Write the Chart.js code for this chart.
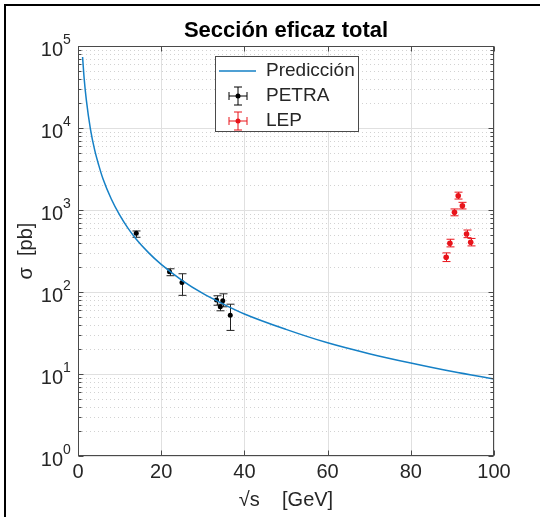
<!DOCTYPE html>
<html>
<head>
<meta charset="utf-8">
<script src="https://cdn.jsdelivr.net/npm/chart.js@4.4.1/dist/chart.umd.min.js"></script>
<style>
  html, body { margin: 0; padding: 0; background: #fff; }
  #wrap { width: 540px; height: 517px; }
</style>
</head>
<body>
<div id="wrap"><canvas id="chart" width="540" height="517"></canvas></div>
<script>
// prediction curve, sigma in pb against sqrt(s) in GeV
const predX = [1.1, 1.5, 2, 3, 4, 5, 6, 8, 10, 12, 14, 17, 20, 25, 30, 35, 40, 50, 60, 70, 80, 90, 100];
const predY = [73400, 39000, 22000, 9600, 5400, 3500, 2400, 1360, 870, 600, 440, 300, 217, 139, 96, 71, 54, 35, 24, 17.7, 13.6, 10.7, 8.7];

// PETRA measurements
const petraX = [14, 22, 25, 33.3, 34.8, 34.2, 36.6];
const petraY = [520, 177, 131, 80, 78, 66, 52];
const petraLo = [465, 158, 91, 69, 66, 59, 34];
const petraHi = [555, 192, 167, 90, 95, 71, 71];

// LEP measurements
const lepX = [88.5, 89.4, 90.5, 91.4, 92.4, 93.4, 94.4];
const lepY = [265, 393, 938, 1495, 1129, 510, 404];
const lepLo = [235, 355, 850, 1360, 1030, 460, 365];
const lepHi = [300, 440, 1030, 1650, 1240, 570, 450];

const xTicks = [0, 20, 40, 60, 80, 100];
const yExps = [0, 1, 2, 3, 4, 5];

const FONT = '"Liberation Sans", Arial, sans-serif';
const AXIS = '#4a4a4a';
const TXT = '#262626';
const BLUE = '#1580c6';
const RED = '#E8141B';

function pts(xs, ys) {
  return xs.map((x, i) => ({ x: x, y: ys[i] }));
}

function errorBars(ctx, xs, lo, hi, color, sx, sy) {
  ctx.save();
  ctx.strokeStyle = color;
  ctx.lineWidth = 1;
  for (let i = 0; i < xs.length; i++) {
    const px = Math.round(sx.getPixelForValue(xs[i])) + 0.5;
    const y1 = sy.getPixelForValue(lo[i]);
    const y2 = sy.getPixelForValue(hi[i]);
    ctx.beginPath();
    ctx.moveTo(px, y1); ctx.lineTo(px, y2);
    ctx.moveTo(px - 4, y1); ctx.lineTo(px + 4, y1);
    ctx.moveTo(px - 4, y2); ctx.lineTo(px + 4, y2);
    ctx.stroke();
  }
  ctx.restore();
}

function legendErrSymbol(ctx, cx, cy, color) {
  ctx.save();
  ctx.strokeStyle = color;
  ctx.fillStyle = color;
  ctx.lineWidth = 1;
  ctx.beginPath();
  ctx.moveTo(cx - 9, cy); ctx.lineTo(cx + 9, cy);
  ctx.moveTo(cx - 9, cy - 4); ctx.lineTo(cx - 9, cy + 4);
  ctx.moveTo(cx + 9, cy - 4); ctx.lineTo(cx + 9, cy + 4);
  ctx.moveTo(cx, cy - 9); ctx.lineTo(cx, cy + 9);
  ctx.moveTo(cx - 4, cy - 9); ctx.lineTo(cx + 4, cy - 9);
  ctx.moveTo(cx - 4, cy + 9); ctx.lineTo(cx + 4, cy + 9);
  ctx.stroke();
  ctx.beginPath();
  ctx.arc(cx, cy, 2.5, 0, Math.PI * 2);
  ctx.fill();
  ctx.restore();
}

const decor = {
  id: 'decor',
  beforeDraw(chart) {
    const ctx = chart.ctx;
    ctx.save();
    ctx.fillStyle = '#fff';
    ctx.fillRect(0, 0, chart.width, chart.height);
    // figure frame
    ctx.fillStyle = '#000';
    ctx.fillRect(4, 4, chart.width - 4, 2);
    ctx.fillRect(4, 4, 2, chart.height - 4);
    ctx.restore();
  },
  beforeDatasetsDraw(chart) {
    const ctx = chart.ctx;
    const a = chart.chartArea;
    const sx = chart.scales.x, sy = chart.scales.y;
    ctx.save();
    ctx.lineWidth = 1;
    // minor y grid, dotted
    ctx.strokeStyle = '#d2d2d2';
    ctx.setLineDash([1, 3]);
    for (let e = 0; e < 5; e++) {
      for (let m = 2; m <= 9; m++) {
        const py = Math.round(sy.getPixelForValue(m * Math.pow(10, e))) + 0.5;
        ctx.beginPath(); ctx.moveTo(a.left, py); ctx.lineTo(a.right, py); ctx.stroke();
      }
    }
    ctx.setLineDash([]);
    // major grid
    ctx.strokeStyle = '#e0e0e0';
    yExps.forEach(e => {
      const py = Math.round(sy.getPixelForValue(Math.pow(10, e))) + 0.5;
      ctx.beginPath(); ctx.moveTo(a.left, py); ctx.lineTo(a.right, py); ctx.stroke();
    });
    xTicks.forEach(v => {
      const px = Math.round(sx.getPixelForValue(v)) + 0.5;
      ctx.beginPath(); ctx.moveTo(px, a.top); ctx.lineTo(px, a.bottom); ctx.stroke();
    });
    ctx.restore();
    errorBars(ctx, petraX, petraLo, petraHi, '#222', sx, sy);
    errorBars(ctx, lepX, lepLo, lepHi, RED, sx, sy);
  },
  afterDraw(chart) {
    const ctx = chart.ctx;
    const a = chart.chartArea;
    const sx = chart.scales.x, sy = chart.scales.y;
    ctx.save();
    // axes box and inward ticks
    ctx.strokeStyle = AXIS;
    ctx.lineWidth = 1;
    const L = Math.round(a.left) + 0.5, R = Math.round(a.right) - 0.5;
    const T = Math.round(a.top) + 0.5, B = Math.round(a.bottom) - 0.5;
    ctx.strokeRect(L, T, R - L, B - T);
    ctx.beginPath();
    xTicks.forEach(v => {
      const px = Math.round(sx.getPixelForValue(v)) + 0.5;
      ctx.moveTo(px, B); ctx.lineTo(px, B - 5);
      ctx.moveTo(px, T); ctx.lineTo(px, T + 5);
    });
    for (let e = 0; e < 5; e++) {
      for (let m = 1; m <= 9; m++) {
        const py = Math.round(sy.getPixelForValue(m * Math.pow(10, e))) + 0.5;
        const len = m === 1 ? 5 : 3;
        ctx.moveTo(L, py); ctx.lineTo(L + len, py);
        ctx.moveTo(R, py); ctx.lineTo(R - len, py);
      }
    }
    ctx.stroke();

    // tick labels
    ctx.fillStyle = TXT;
    ctx.font = '20px ' + FONT;
    ctx.textAlign = 'center';
    ctx.textBaseline = 'top';
    xTicks.forEach(v => {
      ctx.fillText(String(v), sx.getPixelForValue(v), a.bottom + 6);
    });
    yExps.forEach(e => {
      const py = sy.getPixelForValue(Math.pow(10, e));
      ctx.font = '20px ' + FONT;
      ctx.textAlign = 'right';
      ctx.textBaseline = 'alphabetic';
      ctx.fillText('10', a.left - 15, py + 10);
      ctx.font = '14px ' + FONT;
      ctx.textAlign = 'left';
      ctx.fillText(String(e), a.left - 15, py - 2);
    });

    // axis titles
    ctx.font = '20px ' + FONT;
    ctx.textAlign = 'center';
    ctx.textBaseline = 'middle';
    ctx.fillText('\u221As    [GeV]', (a.left + a.right) / 2, 500);
    ctx.save();
    ctx.translate(26, (a.top + a.bottom) / 2);
    ctx.rotate(-Math.PI / 2);
    ctx.fillText('\u03C3  [pb]', 0, 0);
    ctx.restore();

    // title
    ctx.fillStyle = '#000';
    ctx.font = 'bold 22px ' + FONT;
    ctx.fillText('Secci\u00F3n eficaz total', (a.left + a.right) / 2, 31);

    // legend
    const lx = 215.5, ly = 56.5, lw = 143, lh = 75;
    ctx.fillStyle = '#fff';
    ctx.fillRect(lx, ly, lw, lh);
    ctx.strokeStyle = AXIS;
    ctx.strokeRect(lx, ly, lw, lh);
    ctx.strokeStyle = BLUE;
    ctx.lineWidth = 1.5;
    ctx.beginPath(); ctx.moveTo(219, 71); ctx.lineTo(256, 71); ctx.stroke();
    legendErrSymbol(ctx, 238, 96, '#000');
    legendErrSymbol(ctx, 238, 121, RED);
    ctx.fillStyle = TXT;
    ctx.font = '19px ' + FONT;
    ctx.textAlign = 'left';
    ctx.fillText('Predicci\u00F3n', 266, 71);
    ctx.fillText('PETRA', 266, 96);
    ctx.fillText('LEP', 266, 121);
    ctx.restore();
  }
};

new Chart(document.getElementById('chart').getContext('2d'), {
  type: 'scatter',
  data: {
    datasets: [
      {
        label: 'Predicción',
        data: pts(predX, predY),
        showLine: true,
        borderColor: BLUE,
        borderWidth: 1.5,
        pointRadius: 0,
        cubicInterpolationMode: 'monotone',
        fill: false
      },
      {
        label: 'PETRA',
        data: pts(petraX, petraY),
        pointRadius: 2.5,
        pointBackgroundColor: '#000',
        pointBorderColor: '#000',
        pointBorderWidth: 0
      },
      {
        label: 'LEP',
        data: pts(lepX, lepY),
        pointRadius: 2.8,
        pointBackgroundColor: RED,
        pointBorderColor: RED,
        pointBorderWidth: 0
      }
    ]
  },
  options: {
    responsive: false,
    animation: false,
    events: [],
    layout: { padding: { left: 78, right: 46, top: 46, bottom: 61 } },
    scales: {
      x: { type: 'linear', min: 0, max: 100, display: false },
      y: { type: 'logarithmic', min: 1, max: 100000, display: false }
    },
    plugins: {
      legend: { display: false },
      tooltip: { enabled: false }
    }
  },
  plugins: [decor]
});
</script>
</body>
</html>
